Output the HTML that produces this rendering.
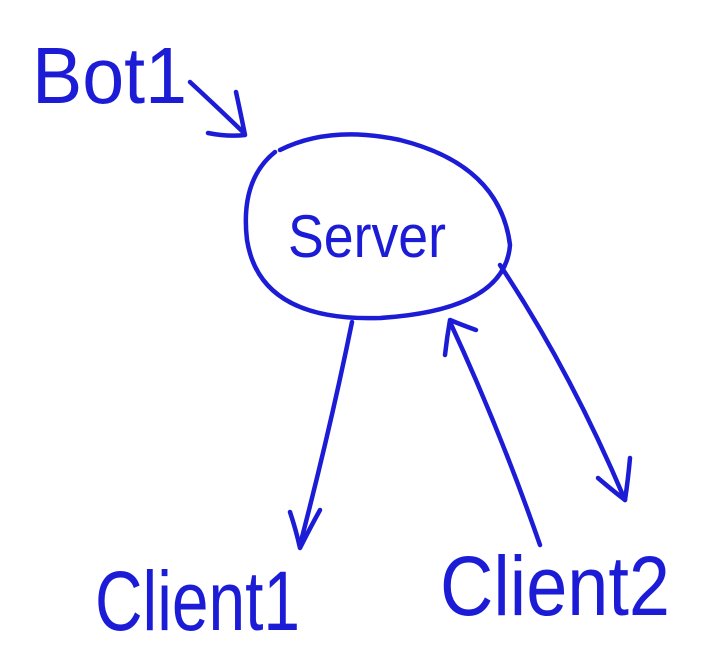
<!DOCTYPE html>
<html><head><meta charset="utf-8"><style>
html,body{margin:0;padding:0;background:#fff;}
svg{display:block;}
text{font-family:"Liberation Sans",sans-serif;fill:#1c1cd6;}
</style></head><body>
<svg width="726" height="650" viewBox="0 0 726 650" xmlns="http://www.w3.org/2000/svg">
<g fill="none" stroke="#1c1cd6" stroke-width="4.5" stroke-linecap="round" stroke-linejoin="round">
<path d="M190 82 Q215 105 243 132"/>
<path d="M236 92 Q241 115 245 135 Q228 137 208 133"/>
<path d="M280 150 Q330 125 400 140 Q500 165 510 245 Q505 310 380 318 Q260 322 247 240 Q240 180 275 152"/>
<path d="M352 322 Q330 430 300 545"/>
<path d="M290 512 Q296 530 300 548 Q310 528 320 510"/>
<path d="M540 545 Q500 430 450 322"/>
<path d="M445 355 Q447 337 450 320 Q462 325 476 330"/>
<path d="M500 265 Q570 370 625 500"/>
<path d="M598 478 Q612 490 625 500 Q628 480 630 458"/>
</g>
<text x="32" y="103" font-size="80" textLength="155" lengthAdjust="spacingAndGlyphs" style="font-weight:300">Bot1</text>
<text x="288" y="257" font-size="60" textLength="158" lengthAdjust="spacingAndGlyphs">Server</text>
<text x="95" y="630" font-size="84" textLength="205" lengthAdjust="spacingAndGlyphs">Client1</text>
<text x="440" y="615" font-size="84" textLength="230" lengthAdjust="spacingAndGlyphs">Client2</text>
</svg>
</body></html>
